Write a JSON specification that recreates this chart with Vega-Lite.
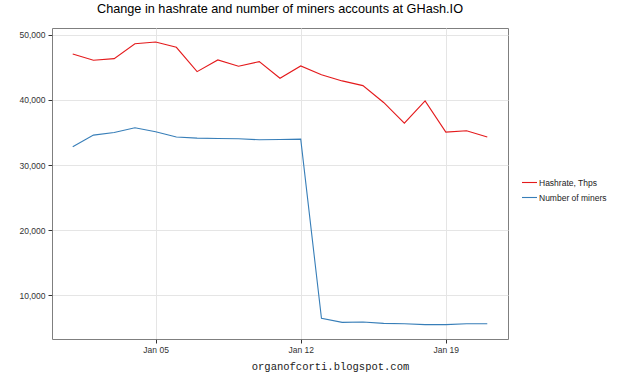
{
  "$schema": "https://vega.github.io/schema/vega-lite/v6.json",
  "autosize": "none",
  "width": 456,
  "height": 311,
  "padding": {"left": 52, "top": 28, "right": 122, "bottom": 39},
  "background": "white",
  "title": {
    "text": "Change in hashrate and number of miners accounts at GHash.IO",
    "font": "Liberation Sans",
    "fontSize": 12.7,
    "fontWeight": "normal",
    "color": "black",
    "anchor": "middle",
    "frame": "group",
    "baseline": "alphabetic",
    "offset": 2.5
  },
  "config": {
    "view": {"stroke": "#7f7f7f", "strokeWidth": 1},
    "font": "Liberation Sans"
  },
  "data": {
    "values": [
      {"date": "2014-01-01", "series": "Hashrate, Thps", "value": 47040},
      {"date": "2014-01-02", "series": "Hashrate, Thps", "value": 46080},
      {"date": "2014-01-03", "series": "Hashrate, Thps", "value": 46330},
      {"date": "2014-01-04", "series": "Hashrate, Thps", "value": 48620},
      {"date": "2014-01-05", "series": "Hashrate, Thps", "value": 48880},
      {"date": "2014-01-06", "series": "Hashrate, Thps", "value": 48070},
      {"date": "2014-01-07", "series": "Hashrate, Thps", "value": 44330},
      {"date": "2014-01-08", "series": "Hashrate, Thps", "value": 46130},
      {"date": "2014-01-09", "series": "Hashrate, Thps", "value": 45160},
      {"date": "2014-01-10", "series": "Hashrate, Thps", "value": 45870},
      {"date": "2014-01-11", "series": "Hashrate, Thps", "value": 43320},
      {"date": "2014-01-12", "series": "Hashrate, Thps", "value": 45200},
      {"date": "2014-01-13", "series": "Hashrate, Thps", "value": 43850},
      {"date": "2014-01-14", "series": "Hashrate, Thps", "value": 42910},
      {"date": "2014-01-15", "series": "Hashrate, Thps", "value": 42190},
      {"date": "2014-01-16", "series": "Hashrate, Thps", "value": 39600},
      {"date": "2014-01-17", "series": "Hashrate, Thps", "value": 36430},
      {"date": "2014-01-18", "series": "Hashrate, Thps", "value": 39850},
      {"date": "2014-01-19", "series": "Hashrate, Thps", "value": 35050},
      {"date": "2014-01-20", "series": "Hashrate, Thps", "value": 35250},
      {"date": "2014-01-21", "series": "Hashrate, Thps", "value": 34290},
      {"date": "2014-01-01", "series": "Number of miners", "value": 32800},
      {"date": "2014-01-02", "series": "Number of miners", "value": 34590},
      {"date": "2014-01-03", "series": "Number of miners", "value": 34990},
      {"date": "2014-01-04", "series": "Number of miners", "value": 35710},
      {"date": "2014-01-05", "series": "Number of miners", "value": 35100},
      {"date": "2014-01-06", "series": "Number of miners", "value": 34290},
      {"date": "2014-01-07", "series": "Number of miners", "value": 34130},
      {"date": "2014-01-08", "series": "Number of miners", "value": 34070},
      {"date": "2014-01-09", "series": "Number of miners", "value": 34030},
      {"date": "2014-01-10", "series": "Number of miners", "value": 33870},
      {"date": "2014-01-11", "series": "Number of miners", "value": 33920},
      {"date": "2014-01-12", "series": "Number of miners", "value": 33980},
      {"date": "2014-01-13", "series": "Number of miners", "value": 6460},
      {"date": "2014-01-14", "series": "Number of miners", "value": 5850},
      {"date": "2014-01-15", "series": "Number of miners", "value": 5900},
      {"date": "2014-01-16", "series": "Number of miners", "value": 5700},
      {"date": "2014-01-17", "series": "Number of miners", "value": 5650},
      {"date": "2014-01-18", "series": "Number of miners", "value": 5500},
      {"date": "2014-01-19", "series": "Number of miners", "value": 5500},
      {"date": "2014-01-20", "series": "Number of miners", "value": 5650},
      {"date": "2014-01-21", "series": "Number of miners", "value": 5650}
    ]
  },
  "mark": {"type": "line", "strokeWidth": 1.1, "clip": true},
  "encoding": {
    "x": {
      "field": "date",
      "type": "temporal",
      "scale": {
        "type": "utc",
        "domain": [
          {"year": 2013, "month": 12, "date": 31, "utc": true},
          {"year": 2014, "month": 1, "date": 22, "utc": true}
        ],
        "nice": false
      },
      "axis": {
        "values": [
          {"year": 2014, "month": 1, "date": 5, "utc": true},
          {"year": 2014, "month": 1, "date": 12, "utc": true},
          {"year": 2014, "month": 1, "date": 19, "utc": true}
        ],
        "labelExpr": "utcFormat(datum.value, '%b %d')",
        "domain": false,
        "grid": true,
        "gridColor": "#e5e5e5",
        "gridWidth": 1,
        "ticks": true,
        "tickColor": "#333333",
        "tickSize": 4,
        "labelFont": "Liberation Sans",
        "labelFontSize": 8.5,
        "labelColor": "#333333",
        "labelPadding": 2,
        "labelFlush": false,
        "title": "organofcorti.blogspot.com",
        "titleFont": "Liberation Mono",
        "titleFontSize": 10.5,
        "titleFontWeight": "normal",
        "titleColor": "#222222",
        "titleX": 278,
        "titleY": 30,
        "titleAlign": "center",
        "titleBaseline": "alphabetic"
      }
    },
    "y": {
      "field": "value",
      "type": "quantitative",
      "scale": {"domain": [3300, 51030], "nice": false, "zero": false},
      "axis": {
        "values": [10000, 20000, 30000, 40000, 50000],
        "format": ",.0f",
        "domain": false,
        "grid": true,
        "gridColor": "#e5e5e5",
        "gridWidth": 1,
        "tickColor": "#333333",
        "tickSize": 4,
        "labelFont": "Liberation Sans",
        "labelFontSize": 8.5,
        "labelColor": "#333333",
        "labelPadding": 3,
        "title": null
      }
    },
    "color": {
      "field": "series",
      "type": "nominal",
      "scale": {
        "domain": ["Hashrate, Thps", "Number of miners"],
        "range": ["#E41A1C", "#377EB8"]
      },
      "legend": {
        "title": null,
        "orient": "none",
        "legendX": 469,
        "legendY": 146,
        "symbolType": "stroke",
        "symbolSize": 225,
        "symbolStrokeWidth": 1.1,
        "labelFont": "Liberation Sans",
        "labelFontSize": 8.5,
        "labelColor": "#222222",
        "labelOffset": 1,
        "rowPadding": 2,
        "padding": 0
      }
    }
  }
}
